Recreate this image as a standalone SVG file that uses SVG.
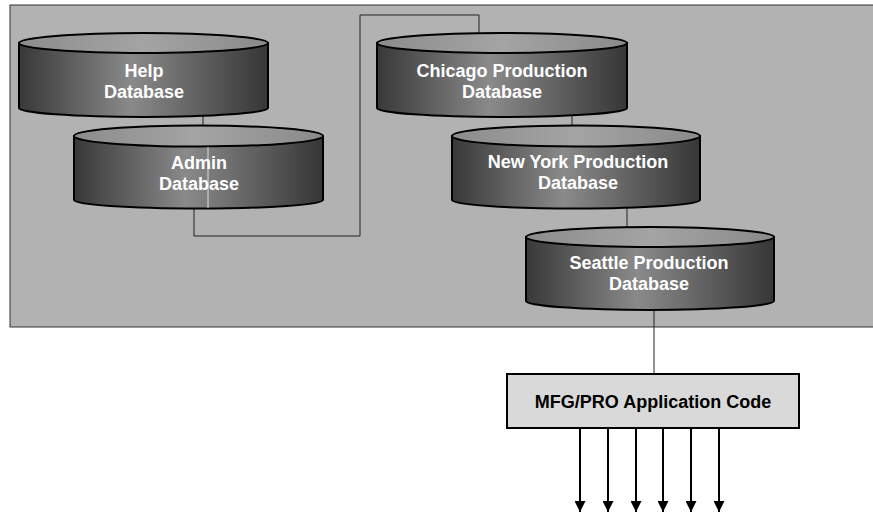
<svg xmlns="http://www.w3.org/2000/svg" width="873" height="514" viewBox="0 0 873 514">
<defs>
<linearGradient id="body" x1="0" y1="0" x2="1" y2="0">
<stop offset="0" stop-color="#383838"/>
<stop offset="0.45" stop-color="#8a8a8a"/>
<stop offset="1" stop-color="#363636"/>
</linearGradient>
<linearGradient id="top" x1="0" y1="0" x2="1" y2="0">
<stop offset="0" stop-color="#8c8c8c"/>
<stop offset="0.5" stop-color="#a4a4a4"/>
<stop offset="1" stop-color="#8a8a8a"/>
</linearGradient>
<marker id="arr" markerWidth="11" markerHeight="11" refX="10" refY="5" orient="auto" markerUnits="userSpaceOnUse" viewBox="0 0 10 10">
<path d="M0,0 L10,5 L0,10 Z" fill="#000"/>
</marker>
</defs>
<style>
.body{fill:url(#body);stroke:#000;stroke-width:2}
.cap{fill:url(#top);stroke:#000;stroke-width:2}
.lbl{font-family:"Liberation Sans",Arial,sans-serif;font-weight:bold;font-size:18px;fill:#fff;text-anchor:middle}
.conn{fill:none;stroke:#222;stroke-width:1}
.arrow{stroke:#000;stroke-width:2;marker-end:url(#arr)}
</style>
<rect x="10" y="5" width="875" height="322" fill="#b2b2b2" stroke="#333" stroke-width="1"/>
<g id="connectors">
<line class="conn" x1="203" y1="108" x2="203" y2="126"/>
<polyline class="conn" points="194,208 194,236 360,236 360,15 479,15 479,33"/>
<line class="conn" x1="572" y1="108" x2="572" y2="126"/>
<line class="conn" x1="627" y1="200" x2="627" y2="227"/>
<line class="conn" x1="654" y1="310" x2="654" y2="374"/>
<line class="arrow" x1="580" y1="428" x2="580" y2="512"/>
<line class="arrow" x1="608" y1="428" x2="608" y2="512"/>
<line class="arrow" x1="636" y1="428" x2="636" y2="512"/>
<line class="arrow" x1="663" y1="428" x2="663" y2="512"/>
<line class="arrow" x1="691" y1="428" x2="691" y2="512"/>
<line class="arrow" x1="719" y1="428" x2="719" y2="512"/>
</g>
<g id="help">
<path class="body" d="M19,43 L19,108 A124.5,9 0 0 0 268,108 L268,43 Z"/>
<ellipse class="cap" cx="143.5" cy="43" rx="124.5" ry="10"/>
<text class="lbl" x="144" y="77">Help</text>
<text class="lbl" x="144" y="98">Database</text>
</g>
<g id="admin">
<path class="body" d="M74,136 L74,200 A124.5,8.5 0 0 0 323,200 L323,136 Z"/>
<ellipse class="cap" cx="198.5" cy="136" rx="124.5" ry="10.5"/>
<line x1="208" y1="147" x2="208" y2="208" stroke="#ddd" stroke-width="1"/>
<text class="lbl" x="199" y="169">Admin</text>
<text class="lbl" x="199" y="190">Database</text>
</g>
<g id="chicago">
<path class="body" d="M377,43 L377,108 A125,9 0 0 0 627,108 L627,43 Z"/>
<ellipse class="cap" cx="502" cy="43" rx="125" ry="10"/>
<text class="lbl" x="502" y="77">Chicago Production</text>
<text class="lbl" x="502" y="98">Database</text>
</g>
<g id="newyork">
<path class="body" d="M452,136 L452,200 A124,8.5 0 0 0 700,200 L700,136 Z"/>
<ellipse class="cap" cx="576" cy="136" rx="124" ry="10.5"/>
<text class="lbl" x="578" y="168">New York Production</text>
<text class="lbl" x="578" y="189">Database</text>
</g>
<g id="seattle">
<path class="body" d="M526,237 L526,301 A124,9 0 0 0 774,301 L774,237 Z"/>
<ellipse class="cap" cx="650" cy="237" rx="124" ry="10"/>
<text class="lbl" x="649" y="269">Seattle Production</text>
<text class="lbl" x="649" y="290">Database</text>
</g>
<g id="mfgpro">
<rect x="507" y="374" width="292" height="54" fill="#d9d9d9" stroke="#000" stroke-width="2"/>
<text x="653" y="408" font-family="'Liberation Sans',Arial,sans-serif" font-weight="bold" font-size="18" fill="#000" text-anchor="middle">MFG/PRO Application Code</text>
</g>
</svg>
